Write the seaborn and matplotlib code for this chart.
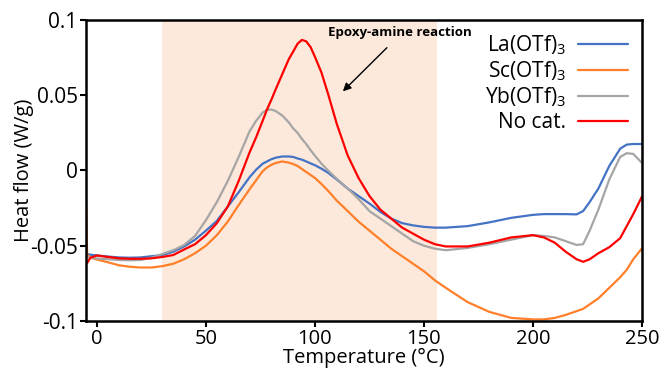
import numpy as np
import pandas as pd
import matplotlib
matplotlib.use("Agg")
import matplotlib.pyplot as plt
import seaborn as sns

temperature = [-5, -4.5, -3, 0, 5, 10, 15, 20, 25, 30, 35, 40, 45, 50, 55, 60, 65, 70, 73, 76,
               78, 80, 82, 85, 88, 90, 92, 94, 96, 98, 100, 103, 106, 110, 115, 120, 125, 130,
               135, 140, 145, 150, 155, 160, 170, 180, 190, 200, 205, 210, 215, 220, 223, 226,
               230, 235, 240, 243, 246, 250]

la_otf = [-0.055, -0.0555, -0.056, -0.0565, -0.0572, -0.0578, -0.058, -0.0578, -0.057, -0.0562,
          -0.054, -0.0505, -0.046, -0.040, -0.0335, -0.024, -0.0145, -0.0045, 0.0005, 0.0045,
          0.006, 0.0075, 0.0085, 0.0093, 0.0093, 0.009, 0.008, 0.0072, 0.006, 0.0047,
          0.0035, 0.0012, -0.0015, -0.006, -0.012, -0.017, -0.022, -0.0275,
          -0.032, -0.035, -0.0365, -0.0375, -0.038, -0.038, -0.037, -0.0345, -0.0315, -0.0295,
          -0.029, -0.029, -0.029, -0.0292, -0.027, -0.021,
          -0.012, 0.003, 0.0145, 0.0172, 0.0176, 0.0176]

sc_otf = [-0.02, -0.056, -0.058, -0.0592, -0.061, -0.063, -0.064, -0.0645, -0.0645, -0.0636,
          -0.062, -0.059, -0.055, -0.050, -0.043, -0.034, -0.023, -0.0125, -0.0065, -0.0005,
          0.002, 0.0038, 0.005, 0.006, 0.0052, 0.0043, 0.003, 0.001, -0.001, -0.003,
          -0.005, -0.009, -0.0135, -0.020, -0.027, -0.034, -0.040, -0.046,
          -0.052, -0.057, -0.062, -0.067, -0.073, -0.078, -0.0875, -0.094, -0.098, -0.099,
          -0.099, -0.098, -0.096, -0.0935, -0.092, -0.089,
          -0.085, -0.078, -0.071, -0.066, -0.059, -0.0518]

yb_otf = [-0.057, -0.0575, -0.058, -0.0585, -0.059, -0.0595, -0.0597, -0.0595, -0.058, -0.0555,
          -0.053, -0.0495, -0.0435, -0.033, -0.021, -0.007, 0.009, 0.026, 0.033, 0.0385,
          0.0403, 0.0405, 0.0395, 0.0365, 0.032, 0.028, 0.025, 0.021, 0.0175, 0.0135,
          0.0098, 0.0045, 0.0, -0.0055, -0.012, -0.019, -0.027, -0.032,
          -0.037, -0.042, -0.047, -0.050, -0.052, -0.053, -0.0515, -0.049, -0.046, -0.043,
          -0.0435, -0.0445, -0.047, -0.0495, -0.049, -0.040,
          -0.026, -0.006, 0.009, 0.0115, 0.011, 0.005]

no_cat = [-0.061, -0.0615, -0.058, -0.0565, -0.0575, -0.0584, -0.0587, -0.0587, -0.0584, -0.0575,
          -0.0562, -0.0525, -0.049, -0.043, -0.035, -0.024, -0.007, 0.012, 0.022, 0.033,
          0.0405, 0.047, 0.054, 0.064, 0.074, 0.079, 0.0842, 0.0868, 0.0858, 0.082,
          0.0755, 0.065, 0.051, 0.031, 0.010, -0.005, -0.017, -0.026,
          -0.032, -0.038, -0.042, -0.046, -0.049, -0.0505, -0.0505, -0.048, -0.0445, -0.043,
          -0.0445, -0.048, -0.054, -0.059, -0.0607, -0.059,
          -0.055, -0.051, -0.045, -0.037, -0.029, -0.0173]

series_names = ["La(OTf)$_3$", "Sc(OTf)$_3$", "Yb(OTf)$_3$", "No cat."]
series_values = [la_otf, sc_otf, yb_otf, no_cat]
colors = ["#4472c4", "#ff7f2a", "#a5a5a5", "#ff0000"]

x_ticks = [0, 50, 100, 150, 200, 250]
y_ticks = [-0.1, -0.05, 0, 0.05, 0.1]
y_tick_labels = ["-0.1", "-0.05", "0", "0.05", "0.1"]
reaction_range = [30, 156]

df = pd.concat([pd.DataFrame({"Temperature": temperature, "Heat flow": v, "Sample": n})
                for n, v in zip(series_names, series_values)], ignore_index=True)

sns.set_style("white")
plt.rcParams["font.family"] = ["Open Sans", "DejaVu Sans"]
plt.rcParams["mathtext.fontset"] = "custom"
plt.rcParams["mathtext.rm"] = "Open Sans"
plt.rcParams["mathtext.it"] = "Open Sans:italic"
plt.rcParams["mathtext.bf"] = "Open Sans:bold"
plt.rcParams["text.color"] = "black"
plt.rcParams["axes.labelcolor"] = "black"
plt.rcParams["xtick.color"] = "black"
plt.rcParams["ytick.color"] = "black"

fig = plt.figure(figsize=(6.67, 3.71), dpi=100)
ax = fig.add_axes([0.129, 0.135, 0.8335, 0.811])

ax.axvspan(reaction_range[0], reaction_range[1], color="#fde9db", lw=0, zorder=0)

sns.lineplot(data=df, x="Temperature", y="Heat flow", hue="Sample", hue_order=series_names,
             palette=colors, linewidth=1.6, ax=ax, sort=False, estimator=None)

ax.set_xlim(-5, 250)
ax.set_ylim(-0.1, 0.1)
ax.set_xticks(x_ticks)
ax.set_xticklabels([str(t) for t in x_ticks])
ax.set_yticks(y_ticks)
ax.set_yticklabels(y_tick_labels)
ax.tick_params(axis="both", which="major", length=4, width=1.5,
               direction="out", color="black", pad=2, bottom=True, left=True)
ax.tick_params(axis="x", labelsize=14.5)
ax.tick_params(axis="y", labelsize=15)
ax.set_xlabel("Temperature (°C)", fontsize=14.5, labelpad=-1)
ax.set_ylabel("Heat flow (W/g)", fontsize=14.5, labelpad=-3)
for s in ax.spines.values():
    s.set_color("black")
    s.set_linewidth(1.8)

leg = ax.legend(loc="upper right", frameon=False, markerfirst=False, fontsize=15,
                handlelength=2.4, labelspacing=0.12, borderaxespad=0.25, handletextpad=0.6)

ax.text(139, 0.0915, "Epoxy-amine reaction", ha="center", va="center",
        fontsize=9.5, fontweight="bold")
ax.annotate("", xy=(112.8, 0.0526), xytext=(133, 0.0816),
            arrowprops=dict(arrowstyle="-|>", color="black", lw=1.0,
                            shrinkA=0, shrinkB=0, mutation_scale=12))

fig.savefig("out.png", dpi=100)
